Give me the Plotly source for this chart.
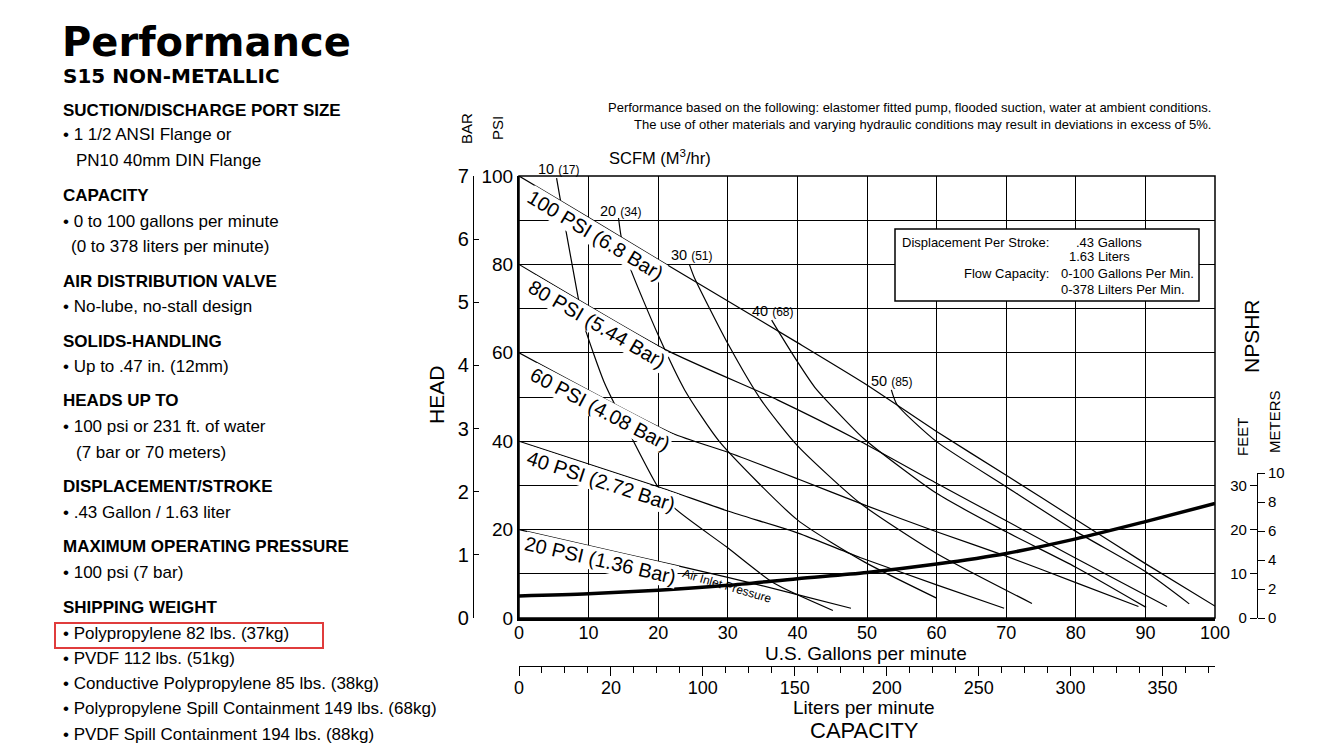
import math
import numpy as np
import plotly.graph_objects as go

# page body has an 8px margin: the figure is sized so that it fits the 1322x752 window
OFF = 8
W, H = 1322 - 2 * OFF, 752 - 2 * OFF
def X(px): return (px - OFF) / W
def Y(py): return 1 - (py - OFF) / H

# ---------------- data ----------------
gpm_ticks = [0, 10, 20, 30, 40, 50, 60, 70, 80, 90, 100]
psi_ticks = [0, 10, 20, 30, 40, 50, 60, 70, 80, 90, 100]
psi_ticktext = ["0", " ", "20", " ", "40", " ", "60", " ", "80", " ", "100"]
bar_ticks = [0, 1, 2, 3, 4, 5, 6, 7]
feet_ticks = [0, 10, 20, 30]
meter_ticks = [0, 2, 4, 6, 8, 10]
liter_tickvals = [0, 50, 100, 150, 200, 250, 300, 350]
liter_ticktext = ["0", "20", "100", "150", "200", "250", "300", "350"]

# air inlet pressure curves (gpm, psi)
p100_gpm = [0, 10, 20, 30, 40, 49.6, 60, 70, 80, 90, 100.1]
p100_psi = [100, 90.6, 81.1, 71.7, 62.3, 53.1, 42.2, 32.3, 22.3, 12.3, 2.6]
p80_gpm = [0, 21.2, 37.2, 49, 60, 70, 80, 93.1]
p80_psi = [80, 60.6, 49.3, 40, 30.5, 22, 13.5, 2.6]
p60_gpm = [0, 22, 30, 40, 49.6, 60, 70, 80, 89]
p60_psi = [60, 41.8, 37.5, 31.5, 25.6, 19.5, 14, 8, 2.6]
p40_gpm = [0, 20, 30, 40.1, 49, 60, 69.7]
p40_psi = [40, 29.7, 24.2, 19.2, 13.7, 7.5, 2.2]
p20_gpm = [0, 15, 30, 40, 47.7]
p20_psi = [20, 14.6, 9.2, 5.3, 2.2]

# air consumption curves SCFM (gpm, psi)
s10_gpm = [5.4, 5.9, 8.3, 9.2, 12.3, 15.6, 19.9, 22.4, 29.8, 36.6, 45.1]
s10_psi = [99.5, 95, 74.2, 67, 53.1, 42.6, 29.8, 24.8, 16.1, 7.9, 1.7]
s20_gpm = [14.3, 14.7, 15.9, 20, 23.8, 28.8, 40, 49.6, 60]
s20_psi = [90.5, 86.1, 79.5, 64, 51.6, 39.9, 22.2, 12.7, 4.5]
s30_gpm = [24.5, 25.2, 30, 34.8, 40, 49, 60, 73.7]
s30_psi = [79.9, 77, 62.1, 49.3, 39, 26, 14.6, 3.3]
s40_gpm = [36.3, 37.3, 40, 42.5, 44.2, 49.6, 60, 70, 80, 90.1]
s40_psi = [67.4, 64.8, 58, 52.2, 49.2, 40.5, 28.2, 19.5, 11.5, 2.4]
s50_gpm = [53.5, 54.3, 60, 70, 80, 90, 96.3]
s50_psi = [51.6, 48.3, 39.9, 29.7, 19.6, 10.5, 3.2]

# NPSHR (gpm, feet)
npshr_gpm = [0, 10, 20, 30, 40, 50, 60, 70, 80, 90, 100]
npshr_ft = [5.0, 5.5, 6.3, 7.4, 8.9, 10.3, 12.2, 14.6, 17.9, 21.8, 25.9]

pressure_labels = ["100 PSI (6.8 Bar)", "80 PSI (5.44 Bar)", "60 PSI (4.08 Bar)",
                   "40 PSI (2.72 Bar)", "20 PSI (1.36 Bar)"]
scfm_labels = [("10", "(17)"), ("20", "(34)"), ("30", "(51)"), ("40", "(68)"), ("50", "(85)")]

pressure_curves = [(p100_gpm, p100_psi), (p80_gpm, p80_psi), (p60_gpm, p60_psi),
                   (p40_gpm, p40_psi), (p20_gpm, p20_psi)]
scfm_curves = [(s10_gpm, s10_psi), (s20_gpm, s20_psi), (s30_gpm, s30_psi),
               (s40_gpm, s40_psi), (s50_gpm, s50_psi)]

# ---------------- figure ----------------
fig = go.Figure()
line_style = dict(color="black", width=1.2, shape="spline", smoothing=0.6)
for gx, gy in pressure_curves + scfm_curves:
    fig.add_trace(go.Scatter(x=gx, y=gy, mode="lines", line=line_style,
                             hoverinfo="skip", showlegend=False))

fig.add_trace(go.Scatter(x=npshr_gpm, y=npshr_ft, mode="lines", xaxis="x", yaxis="y3",
                         line=dict(color="black", width=3.5, shape="spline", smoothing=0.8),
                         hoverinfo="skip", showlegend=False))
# invisible anchors so that the secondary axes are drawn
for xa, ya in [("x2", "y"), ("x", "y2"), ("x", "y4")]:
    fig.add_trace(go.Scatter(x=[0], y=[0], xaxis=xa, yaxis=ya, mode="markers",
                             marker=dict(opacity=0), hoverinfo="skip", showlegend=False))

FONT = "Liberation Sans, Arial, sans-serif"
PX_L, PX_R, PX_T, PX_B = 519, 1215, 176, 618
xdom = [X(PX_L), X(PX_R)]
ydom = [Y(PX_B), Y(PX_T)]
common = dict(automargin=False, fixedrange=True, zeroline=False)

fig.update_layout(
    template="none",
    width=W, height=H, margin=dict(l=0, r=0, t=0, b=0, pad=0, autoexpand=False),
    paper_bgcolor="white", plot_bgcolor="rgba(0,0,0,0)", showlegend=False,
    font=dict(family=FONT, color="black"),
    xaxis=dict(domain=xdom, range=[0, 100], tickvals=gpm_ticks, showgrid=True,
               gridcolor="black", gridwidth=1.3, showline=True, linecolor="black",
               linewidth=3, mirror=False, ticks="", ticklabelstandoff=-4,
               tickfont=dict(size=18), anchor="y", **common),
    yaxis=dict(domain=ydom, range=[0, 100], tickvals=psi_ticks, ticktext=psi_ticktext,
               showgrid=True, gridcolor="black", gridwidth=1.3, showline=True,
               linecolor="black", linewidth=2, ticks="",
               tickfont=dict(size=19), anchor="x", **common),
    xaxis2=dict(domain=xdom, range=[0, 378.54], overlaying="x", anchor="free",
                position=Y(666), side="bottom", showgrid=False, showline=True,
                linecolor="black", linewidth=1.3,
                tickvals=liter_tickvals, ticktext=liter_ticktext, ticks="outside",
                ticklen=9, tickwidth=1.2, tickcolor="black", ticklabelstandoff=-4,
                minor=dict(dtick=12.5, tick0=0, ticks="outside", ticklen=6,
                           tickwidth=1.2, tickcolor="black", showgrid=False),
                tickfont=dict(size=18), **common),
    yaxis2=dict(domain=ydom, range=[0, 7], overlaying="y", anchor="free",
                position=X(473), side="left", showgrid=False, showline=True,
                linecolor="black", linewidth=1.2, tickvals=bar_ticks,
                ticks="inside", ticklen=5, tickcolor="black", tickwidth=1.2,
                tickfont=dict(size=20), **common),
    yaxis3=dict(domain=[Y(618), Y(473)], range=[0, 32.8], anchor="free",
                position=X(1257), side="left", showgrid=False, showline=True,
                linecolor="black", linewidth=1.2, tickvals=feet_ticks,
                ticks="outside", ticklen=7, tickcolor="black", tickwidth=1.2,
                tickfont=dict(size=15), **common),
    yaxis4=dict(range=[0, 10], overlaying="y3", anchor="free", position=X(1257),
                side="right", showgrid=False, showline=False,
                tickvals=meter_ticks, ticks="outside", ticklen=7, tickcolor="black",
                tickwidth=1.2, tickfont=dict(size=15), **common),
)

ann = []
def text(x, y, s, size=16, family=FONT, xanchor="center", yanchor="middle",
         angle=0, bg=None, bold=False, color="black"):
    if bold:
        s = "<b>" + s + "</b>"
    d = dict(x=X(x), y=Y(y), xref="paper", yref="paper", text=s, showarrow=False,
             xanchor=xanchor, yanchor=yanchor, textangle=angle,
             font=dict(size=size, family=family, color=color))
    if bg:
        d.update(bgcolor=bg, borderpad=0)
    ann.append(d)

# pixel scale of the main plot (for placing labels beside the curves)
SX = (PX_R - PX_L) / 100.0
SY = (PX_B - PX_T) / 100.0
def label_along(gx, gy, cx, dist):
    g = (cx - PX_L) / SX
    p0 = np.interp(g - 2, gx, gy)
    p1 = np.interp(g + 2, gx, gy)
    slope = (p0 - p1) * SY / (4 * SX)
    th = math.atan(slope)
    g2 = (cx + dist * math.sin(th) - PX_L) / SX
    ly = PX_B - np.interp(g2, gx, gy) * SY
    return cx, ly + dist * math.cos(th), math.degrees(th)

# chart texts
text(1213, 107, "Performance based on the following: elastomer fitted pump, flooded suction, water at ambient conditions.",
     size=13, xanchor="right")
text(1213, 124, "The use of other materials and varying hydraulic conditions may result in deviations in excess of 5%.",
     size=13, xanchor="right")
text(660, 157, "SCFM (M<sup>3</sup>/hr)", size=16.5)
text(466, 128, "BAR", size=15, angle=-90)
text(497, 128, "PSI", size=15, angle=-90)
text(436, 395, "HEAD", size=21, angle=-90)
text(1251, 336, "NPSHR", size=21, angle=-90)
text(1243, 437, "FEET", size=15, angle=-90)
text(1274, 422, "METERS", size=15, angle=-90)
text(866, 653, "U.S. Gallons per minute", size=19)
text(864, 707, "Liters per minute", size=19)
text(864, 730, "CAPACITY", size=22)

# SCFM labels
scfm_pos = [(559, 169), (621, 211), (692, 255), (773, 311), (892, 381)]
for (a, b), (px_, py_) in zip(scfm_labels, scfm_pos):
    text(px_, py_, a + " <span style='font-size:12px'>" + b + "</span>", size=14.5)

# pressure line labels, just below their lines
label_cx = [595, 597, 600, 601, 600]
for s, (gx, gy), cx in zip(pressure_labels, pressure_curves, label_cx):
    lx, ly, ang = label_along(gx, gy, cx, 12)
    text(lx, ly, s, size=20, angle=ang, bg="white")
lx, ly, ang = label_along(p20_gpm, p20_psi, 727, 8.5)
text(lx, ly, "Air Inlet Pressure", size=12, angle=ang + 3)

# info box
text(1051, 242, "Displacement Per Stroke:", size=13, xanchor="right")
text(1074, 242, ".43 Gallons", size=13, xanchor="left")
text(1067, 257, "1.63 Liters", size=13, xanchor="left")
text(1051, 273, "Flow Capacity:", size=13, xanchor="right")
text(1059, 273, "0-100 Gallons Per Min.", size=13, xanchor="left")
text(1059, 289, "0-378 Lilters Per Min.", size=13, xanchor="left")

# left panel
text(60, 42, "Performance", size=40, family="DejaVu Sans", xanchor="left", bold=True)
text(61, 76, "S15 NON-METALLIC", size=20, family="DejaVu Sans", xanchor="left", bold=True)
left_lines = [
    (110, "SUCTION/DISCHARGE PORT SIZE", True, 61),
    (135, "• 1 1/2 ANSI Flange or", False, 61),
    (160, "PN10 40mm DIN Flange", False, 74),
    (195, "CAPACITY", True, 61),
    (221, "• 0 to 100 gallons per minute", False, 61),
    (246, "(0 to 378 liters per minute)", False, 69),
    (281, "AIR DISTRIBUTION VALVE", True, 61),
    (306, "• No-lube, no-stall design", False, 61),
    (341, "SOLIDS-HANDLING", True, 61),
    (366, "• Up to .47 in. (12mm)", False, 61),
    (401, "HEADS UP TO", True, 61),
    (426, "• 100 psi or 231 ft. of water", False, 61),
    (452, "(7 bar or 70 meters)", False, 74),
    (486, "DISPLACEMENT/STROKE", True, 61),
    (512, "• .43 Gallon / 1.63 liter", False, 61),
    (546, "MAXIMUM OPERATING PRESSURE", True, 61),
    (572, "• 100 psi (7 bar)", False, 61),
    (607, "SHIPPING WEIGHT", True, 61),
    (633, "• Polypropylene 82 lbs. (37kg)", False, 61),
    (658, "• PVDF 112 lbs. (51kg)", False, 61),
    (683, "• Conductive Polypropylene 85 lbs. (38kg)", False, 61),
    (708, "• Polypropylene Spill Containment 149 lbs. (68kg)", False, 61),
    (734, "• PVDF Spill Containment 194 lbs. (88kg)", False, 61),
]
for yy, s, b, xx in left_lines:
    text(xx, yy, s, size=17, xanchor="left", bold=b)

fig.update_layout(annotations=ann)

fig.update_layout(shapes=[
    dict(type="rect", xref="paper", yref="paper", x0=X(895), x1=X(1199), y0=Y(301), y1=Y(229),
         line=dict(color="black", width=1.5), fillcolor="white", layer="above"),
    dict(type="rect", xref="paper", yref="paper", x0=X(55), x1=X(323), y0=Y(648), y1=Y(623),
         line=dict(color="#e03c3c", width=2), fillcolor="rgba(0,0,0,0)", layer="above"),
    dict(type="rect", xref="paper", yref="paper", x0=xdom[0], x1=xdom[1], y0=ydom[0], y1=ydom[1],
         line=dict(color="black", width=1.5), fillcolor="rgba(0,0,0,0)", layer="below"),
])

fig.write_html("out.html")
